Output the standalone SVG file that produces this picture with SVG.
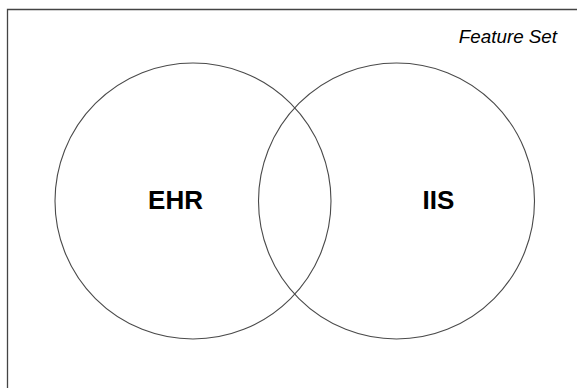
<svg xmlns="http://www.w3.org/2000/svg" width="577" height="388" viewBox="0 0 577 388">
<style>
.set{fill:none;stroke:#4a4a4a;stroke-width:1.1}
.lbl{font-family:"Liberation Sans",Arial,sans-serif;font-weight:bold;font-size:26px;fill:#000;text-anchor:middle}
.title{font-family:"Liberation Sans",Arial,sans-serif;font-style:italic;font-size:18.8px;fill:#000;text-anchor:end}
</style>
<rect width="577" height="388" fill="#fff"/>
<g id="frame">
<path d="M7.5,388 V9.5 H577" fill="none" stroke="#444" stroke-width="1.3"/>
<text class="title" x="557" y="43">Feature Set</text>
</g>
<g id="ehr">
<circle class="set" cx="193" cy="201" r="138"/>
<text class="lbl" x="175.5" y="209">EHR</text>
</g>
<g id="iis">
<circle class="set" cx="396.5" cy="201" r="138"/>
<text class="lbl" x="438.5" y="209">IIS</text>
</g>
<g id="connectors"></g>
</svg>
